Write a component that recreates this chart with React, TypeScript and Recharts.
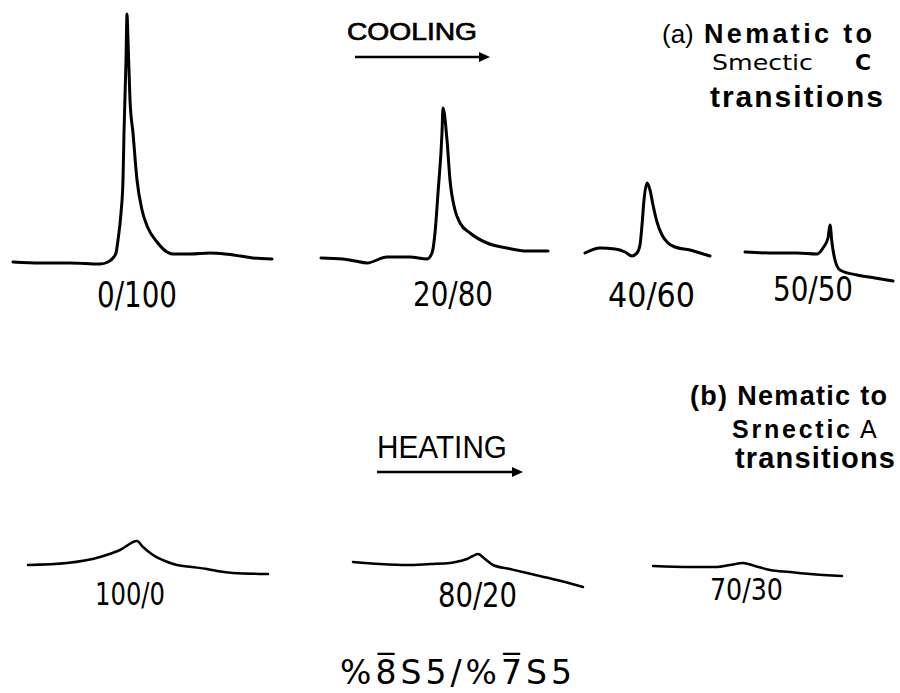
import React from 'react'
import { ScatterChart, Scatter, XAxis, YAxis } from 'recharts'

const W = 900
const H = 693

// DSC traces, x = temperature sweep position, y = plot depth (top = 0)
// (a) cooling, nematic -> smectic C
const x0_100 = [13, 40, 70, 100, 108, 113, 116, 118, 121, 123, 124, 126, 127, 128, 130, 133, 137, 142, 148, 157, 167, 173, 190, 210, 225, 240, 253, 272]
const y0_100 = [262, 263, 263, 264, 262, 258, 253, 240, 213, 180, 133, 60, 14, 40, 100, 133, 180, 210, 228, 242, 252, 254, 254, 253, 254, 256, 258, 259]

const x20_80 = [321, 343, 355, 367, 387, 410, 427, 432, 435, 438, 442, 443, 447, 450, 455, 460, 470, 487, 507, 527, 548]
const y20_80 = [258, 259, 261, 263, 257, 257, 259, 253, 233, 193, 133, 108, 140, 180, 210, 223, 233, 243, 248, 251, 251]

const x40_60 = [585, 600, 615, 625, 632, 637, 640, 642, 644, 647, 650, 653, 657, 662, 668, 675, 690, 700, 710]
const y40_60 = [253, 248, 249, 252, 256, 253, 245, 225, 200, 183, 190, 205, 222, 235, 243, 247, 250, 253, 256]

const x50_50 = [745, 770, 797, 817, 823, 828, 830, 832, 835, 840, 857, 875, 893]
const y50_50 = [252, 253, 253, 254, 248, 238, 225, 243, 260, 270, 275, 278, 281]

// (b) heating, nematic -> smectic A
const x100_0 = [28, 67, 100, 120, 137, 143, 153, 165, 177, 192, 207, 217, 233, 268]
const y100_0 = [565, 563, 557, 550, 541, 547, 555, 561, 565, 567, 569, 571, 573, 574]

const x80_20 = [353, 380, 407, 430, 450, 460, 467, 473, 478, 485, 493, 510, 527, 557, 583]
const y80_20 = [562, 564, 565, 564, 563, 561, 559, 556, 554, 559, 565, 569, 573, 580, 587]

const x70_30 = [653, 690, 717, 730, 743, 755, 770, 790, 810, 842]
const y70_30 = [566, 567, 567, 565, 563, 566, 570, 572, 574, 576]

const mixLabels = ['0/100', '20/80', '40/60', '50/50', '100/0', '80/20', '70/30']

const toPts = (xs: number[], ys: number[]) => xs.map((x, i) => ({ x, y: ys[i] }))

const traces = [
  { key: mixLabels[0], data: toPts(x0_100, y0_100), w: 3 },
  { key: mixLabels[1], data: toPts(x20_80, y20_80), w: 3 },
  { key: mixLabels[2], data: toPts(x40_60, y40_60), w: 3 },
  { key: mixLabels[3], data: toPts(x50_50, y50_50), w: 3 },
  { key: mixLabels[4], data: toPts(x100_0, y100_0), w: 2.5 },
  { key: mixLabels[5], data: toPts(x80_20, y80_20), w: 2.5 },
  { key: mixLabels[6], data: toPts(x70_30, y70_30), w: 2.5 },
]

const stencil = "'Liberation Sans Narrow', 'DejaVu Sans Condensed', 'Liberation Sans', sans-serif"
const helv = "'Liberation Sans', Arial, sans-serif"
const dejavu = "'DejaVu Sans', sans-serif"

// label placement: [x-left, baseline, width, size]
const labelPos: [number, number, number, number][] = [
  [97, 307, 80, 35],
  [413, 306, 80, 33],
  [608, 307, 87, 34],
  [773, 301, 80, 33],
  [95, 605, 70, 32],
  [438, 607, 79, 33],
  [710, 600, 73, 31],
]

const Arrow = ({ x1, x2, y }: { x1: number; x2: number; y: number }) => (
  <g>
    <line x1={x1} y1={y} x2={x2 - 8} y2={y} stroke="#000" strokeWidth={2.5} />
    <path d={`M${x2 - 11},${y - 5} L${x2},${y} L${x2 - 11},${y + 5} Z`} fill="#000" />
  </g>
)

const NoPoint = () => <g />

export default function App() {
  return (
    <div style={{ position: 'absolute', left: 0, top: 0, width: W, height: H, background: '#fff' }}>
      <ScatterChart width={W} height={H} margin={{ top: 0, right: 0, bottom: 0, left: 0 }}>
        <XAxis type="number" dataKey="x" domain={[0, W]} hide allowDataOverflow />
        <YAxis type="number" dataKey="y" domain={[0, H]} reversed hide allowDataOverflow />
        {traces.map((t) => (
          <Scatter
            key={t.key}
            name={t.key}
            data={t.data}
            shape={NoPoint}
            line={{ stroke: '#000', strokeWidth: t.w, strokeLinejoin: 'round', strokeLinecap: 'round', fill: 'none' }}
            lineType="joint"
            lineJointType="monotoneX"
            stroke="#000"
            fill="none"
            isAnimationActive={false}
          />
        ))}
      </ScatterChart>
      <svg width={W} height={H} style={{ position: 'absolute', left: 0, top: 0, pointerEvents: 'none' }}>
        {mixLabels.map((l, i) => {
          const [x, y, w, s] = labelPos[i]
          return (
            <text key={l} x={x} y={y} fontFamily={stencil} fontSize={s} textLength={w}
              lengthAdjust="spacingAndGlyphs" fill="#000">
              {l}
            </text>
          )
        })}

        <text x={347} y={40} fontFamily={helv} fontSize={24} textLength={130}
          lengthAdjust="spacingAndGlyphs" fill="#000" stroke="#000" strokeWidth={0.7}>COOLING</text>
        <Arrow x1={355} x2={490} y={57} />

        <text x={377} y={458} fontFamily={helv} fontSize={31} textLength={130}
          lengthAdjust="spacingAndGlyphs" fill="#000">HEATING</text>
        <Arrow x1={377} x2={523} y={472} />

        <text x={662} y={43} fontFamily={helv} fontSize={26} fill="#000">(a)</text>
        <text x={704} y={43} fontFamily={helv} fontSize={27} fontWeight="bold" textLength={168} fill="#000">Nematic  to</text>
        <text x={712} y={70} fontFamily={dejavu} fontSize={22} textLength={101}
          lengthAdjust="spacingAndGlyphs" fill="#000">Smectic</text>
        <text x={855} y={70} fontFamily={dejavu} fontSize={22} fontWeight="bold" fill="#000">C</text>
        <text x={710} y={107} fontFamily={helv} fontSize={30} fontWeight="bold" textLength={173} fill="#000">transitions</text>

        <text x={690} y={405} fontFamily={helv} fontSize={27} fontWeight="bold" textLength={197} fill="#000">(b) Nematic  to</text>
        <text x={732} y={438} fontFamily={helv} fontSize={25} fontWeight="bold" textLength={118} fill="#000">Srnectic</text>
        <text x={860} y={438} fontFamily={helv} fontSize={25} fill="#000">A</text>
        <text x={735} y={468} fontFamily={helv} fontSize={29} fontWeight="bold" textLength={160} fill="#000">transitions</text>

        <text x={340} y={684} fontFamily={dejavu} fontSize={33} textLength={232}
          lengthAdjust="spacing" fill="#000">%8&#x0305;S5/%7&#x0305;S5</text>
      </svg>
    </div>
  )
}
